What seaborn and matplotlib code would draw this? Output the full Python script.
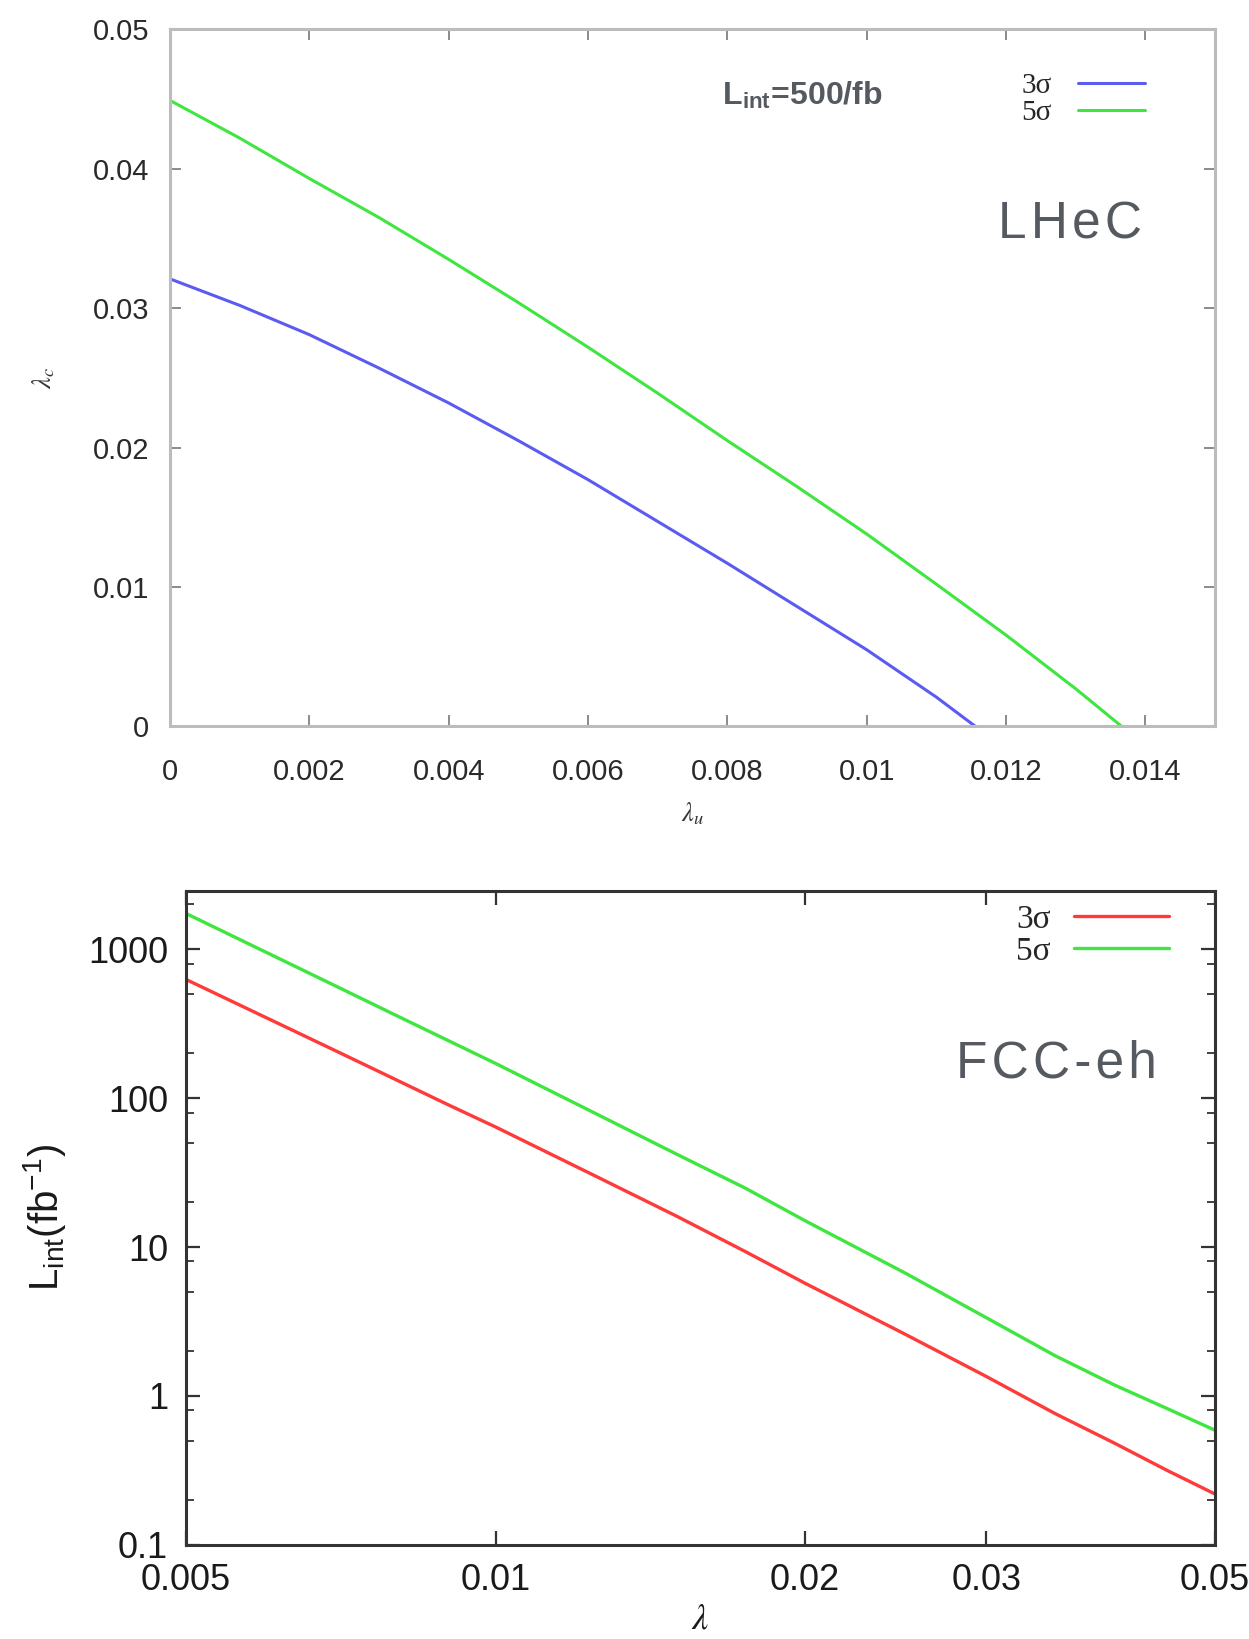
import numpy as np
import pandas as pd
import matplotlib
matplotlib.use("Agg")
import matplotlib.pyplot as plt
import seaborn as sns
from matplotlib.ticker import FixedLocator, FuncFormatter, LogLocator, NullLocator, NullFormatter

# ---------------- data ----------------
# LHeC panel: lambda_u vs lambda_c, L_int = 500/fb
lhec_x_3s = [0.0, 0.001, 0.002, 0.003, 0.004, 0.005, 0.006, 0.007, 0.008, 0.009, 0.010, 0.011, 0.01156]
lhec_y_3s = [0.0321, 0.0302, 0.0281, 0.0257, 0.0232, 0.0205, 0.0177, 0.0147, 0.0117, 0.0086, 0.0055, 0.0021, 0.0]
lhec_x_5s = [0.0, 0.001, 0.002, 0.003, 0.004, 0.005, 0.006, 0.007, 0.008, 0.009, 0.010, 0.011, 0.012, 0.013, 0.01366]
lhec_y_5s = [0.0449, 0.0422, 0.0393, 0.0365, 0.0335, 0.0304, 0.0272, 0.0239, 0.0205, 0.0172, 0.0138, 0.0102, 0.00655, 0.0027, 0.0]

# FCC-eh panel: lambda vs L_int (fb^-1)
fcc_x = [0.005, 0.006, 0.007, 0.008, 0.009, 0.010, 0.0125, 0.015, 0.0175, 0.020, 0.025, 0.030, 0.035, 0.040, 0.045, 0.050]
fcc_3s = [627, 344, 207, 133, 90, 64, 30, 16.1, 9.3, 5.7, 2.6, 1.35, 0.76, 0.48, 0.315, 0.22]
fcc_5s = [1740, 945, 564, 360, 243, 171, 79, 42, 24.8, 15.0, 6.7, 3.35, 1.86, 1.18, 0.82, 0.59]

lhec_xticks = [0, 0.002, 0.004, 0.006, 0.008, 0.010, 0.012, 0.014]
lhec_yticks = [0, 0.01, 0.02, 0.03, 0.04, 0.05]
fcc_xticks = [0.005, 0.01, 0.02, 0.03, 0.05]
fcc_yticks = [0.1, 1, 10, 100, 1000]

# ---------------- style ----------------
sns.set_style("ticks")
plt.rcParams["font.family"] = ["Liberation Sans", "DejaVu Sans"]
plt.rcParams["mathtext.fontset"] = "stix"

BLUE = "#5b5bf2"
GREEN = "#3fe63f"
RED = "#ff3a3a"
TXT = "#555a61"
HS = "\u200a"  # hair space for letter spacing

fig = plt.figure(figsize=(12.49, 16.39), dpi=100)
ax1 = fig.add_axes([0.1361, 0.5568, 0.8367, 0.4253])
ax2 = fig.add_axes([0.1489, 0.0575, 0.8235, 0.3990])

fmt = FuncFormatter(lambda v, p: "%g" % v)

# ---------------- top panel (LHeC) ----------------
df3 = pd.DataFrame({"x": lhec_x_3s, "y": lhec_y_3s})
df5 = pd.DataFrame({"x": lhec_x_5s, "y": lhec_y_5s})
sns.lineplot(data=df3, x="x", y="y", ax=ax1, color=BLUE, linewidth=2.2, label="3σ")
sns.lineplot(data=df5, x="x", y="y", ax=ax1, color=GREEN, linewidth=2.2, label="5σ")
ax1.set_xlim(0, 0.015)
ax1.set_ylim(0, 0.05)
ax1.xaxis.set_major_locator(FixedLocator(lhec_xticks))
ax1.yaxis.set_major_locator(FixedLocator(lhec_yticks))
ax1.xaxis.set_major_formatter(fmt)
ax1.yaxis.set_major_formatter(fmt)
ax1.tick_params(which="both", direction="in", top=True, right=True, length=8, width=1.2,
                color="#777777", labelsize=21, labelcolor="#2a2a2a")
ax1.tick_params(axis="y", pad=15)
ax1.tick_params(axis="x", pad=23)
for s in ax1.spines.values():
    s.set_color("#bcbcbc")
    s.set_linewidth(2.2)
ax1.set_xlabel(r"$\lambda_u$", fontsize=19, color="#333333", labelpad=10)
ax1.set_ylabel(r"$\lambda_c$", fontsize=19, color="#333333", labelpad=26)
ax1.text(0.00792, 0.0452, r"L$_{\mathregular{int}}$=500/fb", fontsize=23, fontweight="bold",
         color=TXT, ha="left", va="center")
ax1.text(0.01395, 0.0360, HS.join("LHeC"), fontsize=37, color=TXT, ha="right", va="center",
         family=["Liberation Sans", "DejaVu Sans"])
leg1 = ax1.legend(loc="upper right", bbox_to_anchor=(0.958, 0.975), frameon=False, markerfirst=False,
                  handlelength=2.3, handletextpad=0.9, labelspacing=0.0,
                  prop={"family": "Liberation Serif", "size": 21})

# ---------------- bottom panel (FCC-eh) ----------------
dfa = pd.DataFrame({"x": fcc_x, "y": fcc_3s})
dfb = pd.DataFrame({"x": fcc_x, "y": fcc_5s})
sns.lineplot(data=dfa, x="x", y="y", ax=ax2, color=RED, linewidth=2.4, label="3σ")
sns.lineplot(data=dfb, x="x", y="y", ax=ax2, color=GREEN, linewidth=2.4, label="5σ")
ax2.set_xscale("log")
ax2.set_yscale("log")
ax2.set_xlim(0.005, 0.05)
ax2.set_ylim(0.1, 2470)
ax2.xaxis.set_major_locator(FixedLocator(fcc_xticks))
ax2.xaxis.set_minor_locator(NullLocator())
ax2.xaxis.set_major_formatter(fmt)
ax2.yaxis.set_major_locator(FixedLocator(fcc_yticks))
ax2.yaxis.set_minor_locator(LogLocator(base=10, subs=(2.0, 5.0, 8.0), numticks=20))
ax2.yaxis.set_minor_formatter(NullFormatter())
ax2.yaxis.set_major_formatter(fmt)
ax2.tick_params(which="major", direction="in", top=True, right=True, length=10, width=1.6,
                color="#333333", labelsize=26, labelcolor="#1a1a1a", pad=13)
ax2.tick_params(which="minor", direction="in", top=True, right=True, length=6, width=1.3, color="#333333")
for s in ax2.spines.values():
    s.set_color("#333333")
    s.set_linewidth(2.2)
ax2.set_xlabel(r"$\lambda$", fontsize=26, color="#1a1a1a", labelpad=3)
ax2.set_ylabel(r"$\mathregular{L_{int}(fb^{-1})}$", fontsize=29, color="#1a1a1a", labelpad=14)
ax2.text(0.944, 0.735, HS.join("FCC-eh"), transform=ax2.transAxes, fontsize=37, color=TXT,
         ha="right", va="center", family=["Liberation Sans", "DejaVu Sans"])
leg2 = ax2.legend(loc="upper right", bbox_to_anchor=(0.985, 1.025), frameon=False, markerfirst=False,
                  handlelength=2.85, handletextpad=0.7, labelspacing=0.05,
                  prop={"family": "Liberation Serif", "size": 24})

fig.savefig("out.png", dpi=100, facecolor="white")
